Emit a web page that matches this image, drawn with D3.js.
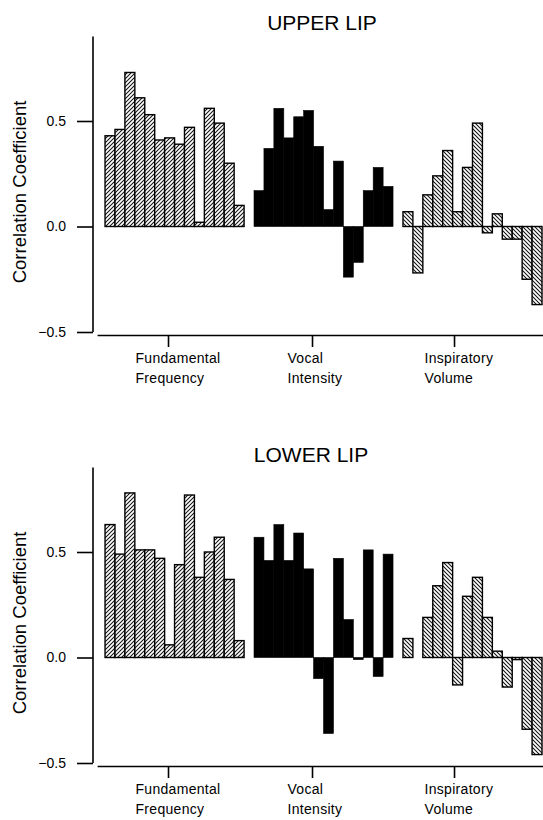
<!DOCTYPE html>
<html>
<head>
<meta charset="utf-8">
<script src="https://cdn.jsdelivr.net/npm/d3@7"></script>
<style>
  body { margin: 0; background: #fff; }
  text { font-family: Arial, "Liberation Sans", sans-serif; fill: #000; }
</style>
</head>
<body>
<div id="content"></div>
<script>
// data
var panels      = ['UPPER LIP', 'LOWER LIP'];
var groups      = ['Fundamental Frequency', 'Vocal Intensity', 'Inspiratory Volume'];
var groupLines  = [['Fundamental', 'Frequency'], ['Vocal', 'Intensity'], ['Inspiratory', 'Volume']];
var yTicks      = [-0.5, 0, 0.5];
var tickSlots   = [6.34, 20.84, 35.14];

var upperF0  = [0.43, 0.46, 0.73, 0.61, 0.53, 0.41, 0.42, 0.39, 0.47, 0.02, 0.56, 0.49, 0.30, 0.10];
var upperVI  = [0.17, 0.37, 0.56, 0.42, 0.52, 0.55, 0.38, 0.08, 0.31, -0.24, -0.17, 0.17, 0.28, 0.19];
var upperIV  = [0.07, -0.22, 0.15, 0.24, 0.36, 0.07, 0.28, 0.49, -0.03, 0.06, -0.06, -0.06, -0.25, -0.37];
var lowerF0  = [0.63, 0.49, 0.78, 0.51, 0.51, 0.47, 0.06, 0.44, 0.77, 0.38, 0.50, 0.57, 0.37, 0.08];
var lowerVI  = [0.57, 0.46, 0.63, 0.46, 0.59, 0.42, -0.10, -0.36, 0.47, 0.18, -0.01, 0.51, -0.09, 0.49];
var lowerIV  = [0.09, 0, 0.19, 0.34, 0.45, -0.13, 0.29, 0.38, 0.19, 0.03, -0.14, -0.01, -0.34, -0.46];

var panelData = [[upperF0, upperVI, upperIV], [lowerF0, lowerVI, lowerIV]];

var W = 543, H = 820;
var svg = d3.select('#content').append('svg')
    .attr('width', W).attr('height', H);

// hatch patterns
var defs = svg.append('defs');
function hatch(id, d) {
    var p = defs.append('pattern').attr('id', id)
        .attr('patternUnits', 'userSpaceOnUse')
        .attr('width', 4).attr('height', 4);
    p.append('rect').attr('width', 4).attr('height', 4).attr('fill', '#fff');
    p.append('path').attr('d', d).attr('stroke', '#111').attr('stroke-width', 1.05).attr('fill', 'none');
}
hatch('fwd', 'M-1,1 l2,-2 M0,4 l4,-4 M3,5 l2,-2');
hatch('bck', 'M-1,3 l2,2 M0,0 l4,4 M3,-1 l2,2');
var fills = ['url(#fwd)', '#000', 'url(#bck)'];

// slot scale (14 bars per group, one empty slot between groups)
var xs = d3.scaleLinear().domain([-0.8, 44.1]).range([97.1, 543]);
var perGroup = 14;
var labelDx = [-33, -25, -30];

var panelTop = [0, 431];
var axisX = 93;

panels.forEach(function(title, p) {
    var off = panelTop[p];
    var g = svg.append('g').attr('transform', 'translate(0,' + off + ')');

    var y = d3.scaleLinear().domain([-0.5, 0.5]).range([332, 121]);

    // title
    g.append('text').text(title)
        .attr('x', p == 0 ? 322 : 311).attr('y', p == 0 ? 30 : 31)
        .attr('text-anchor', 'middle')
        .attr('font-size', '21px');

    // y axis
    var ya = g.append('g').attr('transform', 'translate(' + axisX + ',0)')
        .call(d3.axisLeft(y).tickValues(yTicks).tickFormat(d3.format('.1f'))
            .tickSize(16).tickPadding(11).tickSizeOuter(0));
    ya.select('.domain').remove();
    ya.append('line').attr('x1', 0).attr('x2', 0)
        .attr('y1', y(0.9)).attr('y2', y(-0.5))
        .attr('stroke', '#000').attr('stroke-width', 1.6);
    ya.selectAll('.tick line').attr('stroke', '#000').attr('stroke-width', 1.6);
    ya.selectAll('.tick text').attr('font-size', '14px').attr('font-family', 'Arial, "Liberation Sans", sans-serif').attr('fill', '#000');

    g.append('text').text('Correlation Coefficient')
        .attr('transform', 'translate(26,' + 192 + ') rotate(-90)')
        .attr('text-anchor', 'middle')
        .attr('font-size', '18.5px');

    // bars
    panelData[p].forEach(function(vals, gi) {
        g.append('g').selectAll('rect').data(vals).enter().append('rect')
            .attr('x', function(d, i) { return xs(gi * (perGroup + 1) + i); })
            .attr('width', function(d, i) { return xs(gi * (perGroup + 1) + i + 1) - xs(gi * (perGroup + 1) + i); })
            .attr('y', function(d) { return y(Math.max(0, d)); })
            .attr('height', function(d) { return Math.abs(y(d) - y(0)); })
            .attr('fill', fills[gi])
            .attr('stroke', '#000')
            .attr('stroke-width', gi == 1 ? 0.6 : 1.4);
    });

    // x axis
    var xa = g.append('g').attr('transform', 'translate(0,' + (y(-0.5) + 3) + ')')
        .call(d3.axisBottom(xs).tickValues(tickSlots).tickFormat('').tickSize(12).tickSizeOuter(0));
    xa.select('.domain').attr('stroke', '#000').attr('stroke-width', 1.6);
    xa.selectAll('.tick line').attr('stroke', '#000').attr('stroke-width', 1.6);
    xa.selectAll('.tick').each(function(d, i) {
        var t = d3.select(this);
        groupLines[i].forEach(function(line, li) {
            t.append('text').text(line)
                .attr('x', labelDx[i]).attr('y', 28 + li * 20)
                .attr('text-anchor', 'start')
                .attr('font-size', '14px')
                .attr('letter-spacing', '0.3px')
                .attr('fill', '#000');
        });
    });
});
</script>
</body>
</html>
